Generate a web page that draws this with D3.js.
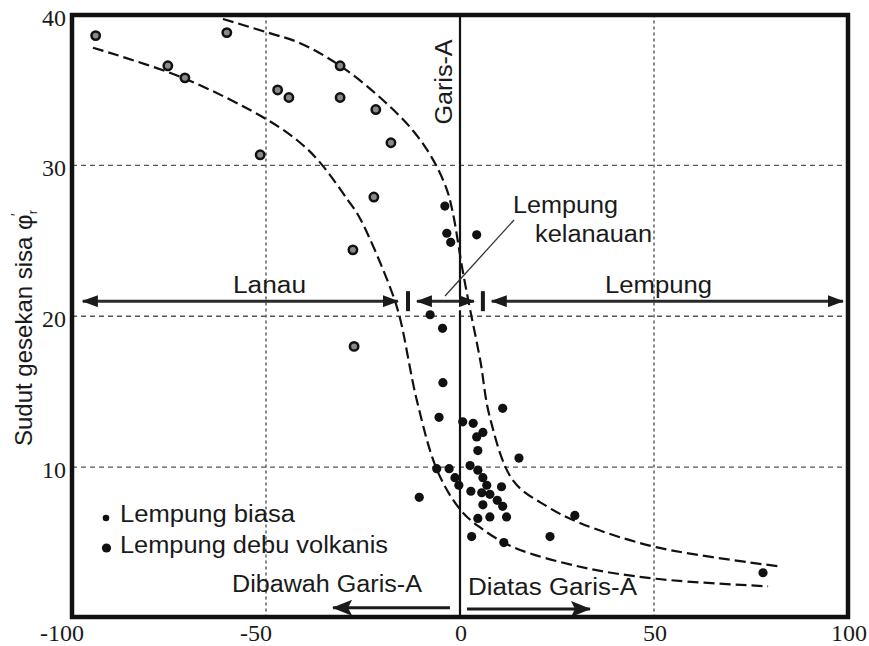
<!DOCTYPE html>
<html>
<head>
<meta charset="utf-8">
<script src="https://cdn.jsdelivr.net/npm/d3@7"></script>
<style>
body { margin: 0; background: #fff; }
svg text { font-family: "Liberation Sans", Arial, sans-serif; fill: #1a1a1a; }
svg text.num { font-family: "Liberation Serif", "Times New Roman", serif; }
</style>
</head>
<body>
<div id="chart"></div>
<script>
var xTicks = [-100, -50, 0, 50, 100];
var yTicks = [10, 20, 30, 40];
var xGrid = [-50, 50];
var yGrid = [10, 20, 30];

// Lempung biasa (open circles)
var biasa = [
    [-93.9, 38.6], [-75.3, 36.6], [-70.9, 35.8], [-60.1, 38.8], [-47.0, 35.0],
    [-44.1, 34.5], [-51.5, 30.7], [-30.9, 36.6], [-30.9, 34.5], [-21.7, 33.7],
    [-17.8, 31.5], [-22.2, 27.9], [-27.6, 24.4], [-27.3, 18.0]
];

// Lempung debu volkanis (solid dots)
var volkanis = [
    [-3.9, 27.3], [-3.4, 25.5], [-2.4, 24.9], [4.3, 25.4], [-7.7, 20.1],
    [-4.5, 19.2], [-4.4, 15.6], [-5.4, 13.3], [11.0, 13.9], [0.7, 13.0],
    [3.4, 12.9], [5.9, 12.3], [4.3, 12.0], [4.6, 11.1], [15.2, 10.6],
    [2.6, 10.1], [4.6, 9.8], [-6.0, 9.9], [-2.8, 9.9], [-1.3, 9.3],
    [-0.3, 8.8], [5.9, 9.3], [6.9, 8.8], [10.7, 8.7], [2.8, 8.4],
    [5.6, 8.3], [7.7, 8.2], [9.6, 7.8], [5.9, 7.5], [11.0, 7.4],
    [-10.5, 8.0], [4.6, 6.6], [7.7, 6.7], [12.0, 6.7], [3.0, 5.4],
    [11.3, 5.0], [23.2, 5.4], [29.6, 6.8], [78.1, 3.0]
];

// dashed boundary curves
var upperBound = [
    [-61.1, 39.7], [-49.5, 38.8], [-41.2, 38.1], [-30.9, 36.6], [-20.6, 34.5],
    [-12.1, 32.3], [-7.0, 30.4], [-3.4, 28.4], [-1.8, 26.8], [0.5, 23.3],
    [2.1, 21.1], [5.2, 17.1], [7.7, 13.3], [13.7, 9.1], [22.4, 7.4],
    [30.9, 6.3], [50.5, 4.7], [83.0, 3.4]
];
var lowerBound = [
    [-94.6, 37.8], [-71.4, 35.8], [-49.5, 33.0], [-41.2, 31.5], [-36.1, 30.2],
    [-28.9, 27.7], [-25.8, 26.5], [-18.0, 21.9], [-15.5, 19.9], [-11.1, 14.4],
    [-5.9, 9.8], [0, 7.2], [5.2, 6.0], [13.7, 4.7], [30.9, 3.4], [50.5, 2.6], [79.4, 2.1]
];

// zone arrows along phi = 21
var zoneLevel = 21;
var zones = [[-97.2, -16.0], [-11.1, 3.6], [8.2, 98.7]];
var zoneBars = [-13.4, 5.9];
// bottom arrows: [tail, head]
var sideLevel = [0.68, 0.6];
var sideArrows = [[-2.6, -32.7], [1.8, 33.5]];

var width = 869, height = 646;
var svg = d3.select("#chart").append("svg")
    .attr("width", width)
    .attr("height", height);

var x = d3.scaleLinear().domain([-100, 100]).range([72, 848]);
var y = d3.scaleLinear().domain([0, 40]).range([618, 14.5]);

var defs = svg.append("defs");
defs.append("marker")
    .attr("id", "head")
    .attr("viewBox", "0 0 16 12")
    .attr("refX", 15).attr("refY", 6)
    .attr("markerWidth", 16).attr("markerHeight", 12)
    .attr("markerUnits", "userSpaceOnUse")
    .attr("orient", "auto-start-reverse")
    .append("path").attr("d", "M0,0L16,6L0,12Z").attr("fill", "#1a1a1a");
defs.append("marker")
    .attr("id", "head2")
    .attr("viewBox", "0 0 20 16")
    .attr("refX", 19).attr("refY", 8)
    .attr("markerWidth", 20).attr("markerHeight", 16)
    .attr("markerUnits", "userSpaceOnUse")
    .attr("orient", "auto")
    .append("path").attr("d", "M0,0L20,8L0,16L4,8Z").attr("fill", "#1a1a1a");

// grid
svg.selectAll(".vgrid").data(xGrid).enter().append("line")
    .attr("class", "vgrid")
    .attr("x1", function(d) { return x(d); }).attr("x2", function(d) { return x(d); })
    .attr("y1", y(40)).attr("y2", y(0))
    .attr("stroke", "#555").attr("stroke-width", 1.4)
    .attr("stroke-dasharray", "3,3");
svg.selectAll(".hgrid").data(yGrid).enter().append("line")
    .attr("class", "hgrid")
    .attr("x1", x(-100)).attr("x2", x(100))
    .attr("y1", function(d) { return y(d); }).attr("y2", function(d) { return y(d); })
    .attr("stroke", "#555").attr("stroke-width", 1.4)
    .attr("stroke-dasharray", "5,4");

// Garis-A (x = 0), broken at the zone arrow row
svg.append("line")
    .attr("x1", x(0)).attr("x2", x(0))
    .attr("y1", y(40)).attr("y2", y(zoneLevel + 0.25))
    .attr("stroke", "#111").attr("stroke-width", 2.2);
svg.append("line")
    .attr("x1", x(0)).attr("x2", x(0))
    .attr("y1", y(zoneLevel - 0.6)).attr("y2", y(0))
    .attr("stroke", "#111").attr("stroke-width", 2.2);

// boundary curves
var line = d3.line()
    .x(function(d) { return x(d[0]); })
    .y(function(d) { return y(d[1]); })
    .curve(d3.curveCatmullRom.alpha(0.5));
svg.selectAll(".bound").data([upperBound, lowerBound]).enter().append("path")
    .attr("class", "bound")
    .attr("d", line)
    .attr("fill", "none")
    .attr("stroke", "#111").attr("stroke-width", 2.2)
    .attr("stroke-dasharray", "11,5");

// points
svg.selectAll(".biasa").data(biasa).enter().append("circle")
    .attr("class", "biasa")
    .attr("cx", function(d) { return x(d[0]); })
    .attr("cy", function(d) { return y(d[1]); })
    .attr("r", 4.2)
    .attr("fill", "#8a8a8a").attr("stroke", "#111").attr("stroke-width", 2.5);
svg.selectAll(".volk").data(volkanis).enter().append("circle")
    .attr("class", "volk")
    .attr("cx", function(d) { return x(d[0]); })
    .attr("cy", function(d) { return y(d[1]); })
    .attr("r", 4.6)
    .attr("fill", "#111");

// zone arrows
svg.selectAll(".zone").data(zones).enter().append("line")
    .attr("class", "zone")
    .attr("x1", function(d) { return x(d[0]); })
    .attr("x2", function(d) { return x(d[1]); })
    .attr("y1", y(zoneLevel)).attr("y2", y(zoneLevel))
    .attr("stroke", "#2a2a2a").attr("stroke-width", 3)
    .attr("marker-start", "url(#head)").attr("marker-end", "url(#head)");
svg.selectAll(".zbar").data(zoneBars).enter().append("rect")
    .attr("class", "zbar")
    .attr("x", function(d) { return x(d) - 2; })
    .attr("y", y(zoneLevel) - 10)
    .attr("width", 4).attr("height", 20)
    .attr("fill", "#1a1a1a");

// Dibawah / Diatas arrows
svg.selectAll(".side").data(sideArrows).enter().append("line")
    .attr("class", "side")
    .attr("x1", function(d) { return x(d[0]); })
    .attr("x2", function(d) { return x(d[1]); })
    .attr("y1", function(d, i) { return y(sideLevel[i]); })
    .attr("y2", function(d, i) { return y(sideLevel[i]); })
    .attr("stroke", "#1a1a1a").attr("stroke-width", 3)
    .attr("marker-end", "url(#head2)");

// frame
svg.append("rect")
    .attr("x", x(-100)).attr("y", 15)
    .attr("width", x(100) - x(-100)).attr("height", 617 - 15)
    .attr("fill", "none").attr("stroke", "#111").attr("stroke-width", 4.5);

// tick labels
svg.selectAll(".xt").data(xTicks).enter().append("text")
    .attr("class", "num")
    .attr("x", function(d) { return x(d) + (d < 0 ? -10 : 1); })
    .attr("y", 641)
    .attr("text-anchor", "middle")
    .style("font-size", "24px")
    .text(function(d) { return d; });
svg.selectAll(".yt").data(yTicks).enter().append("text")
    .attr("class", "num")
    .attr("x", 66)
    .attr("y", function(d) { return y(d) + 11; })
    .attr("text-anchor", "end")
    .style("font-size", "24px")
    .text(function(d) { return d; });

// texts
function label(tx, ty, str, len, size) {
    return svg.append("text")
        .attr("x", tx).attr("y", ty)
        .attr("textLength", len).attr("lengthAdjust", "spacingAndGlyphs")
        .style("font-size", (size || 23) + "px")
        .text(str);
}
label(233, 293, "Lanau", 73);
label(605, 293, "Lempung", 107);
label(513, 213, "Lempung", 105);
label(535, 242, "kelanauan", 117);
label(232, 592, "Dibawah Garis-A", 190);
label(468, 595, "Diatas Garis-A", 169);
label(120, 521.5, "Lempung biasa", 175);
label(120, 552.5, "Lempung debu volkanis", 268);

svg.append("line")
    .attr("x1", 445).attr("y1", 296)
    .attr("x2", 514).attr("y2", 220)
    .attr("stroke", "#333").attr("stroke-width", 1.3);

svg.append("circle").attr("cx", 106).attr("cy", 518).attr("r", 3.3).attr("fill", "#111");
svg.append("circle").attr("cx", 106.5).attr("cy", 548).attr("r", 4.6).attr("fill", "#111");

svg.append("text")
    .attr("transform", "translate(452,82) rotate(-90)")
    .attr("text-anchor", "middle")
    .attr("textLength", 85).attr("lengthAdjust", "spacingAndGlyphs")
    .style("font-size", "23px")
    .text("Garis-A");

var yl = svg.append("text")
    .attr("transform", "translate(32,328) rotate(-90)")
    .attr("text-anchor", "middle")
    .style("font-size", "24px");
yl.append("tspan").text("Sudut gesekan sisa \u03c6");
yl.append("tspan").attr("dy", 5).style("font-size", "13px").text("r");
yl.append("tspan").attr("dy", -16).attr("dx", -6).style("font-size", "14px").text("\u2032");
</script>
</body>
</html>
